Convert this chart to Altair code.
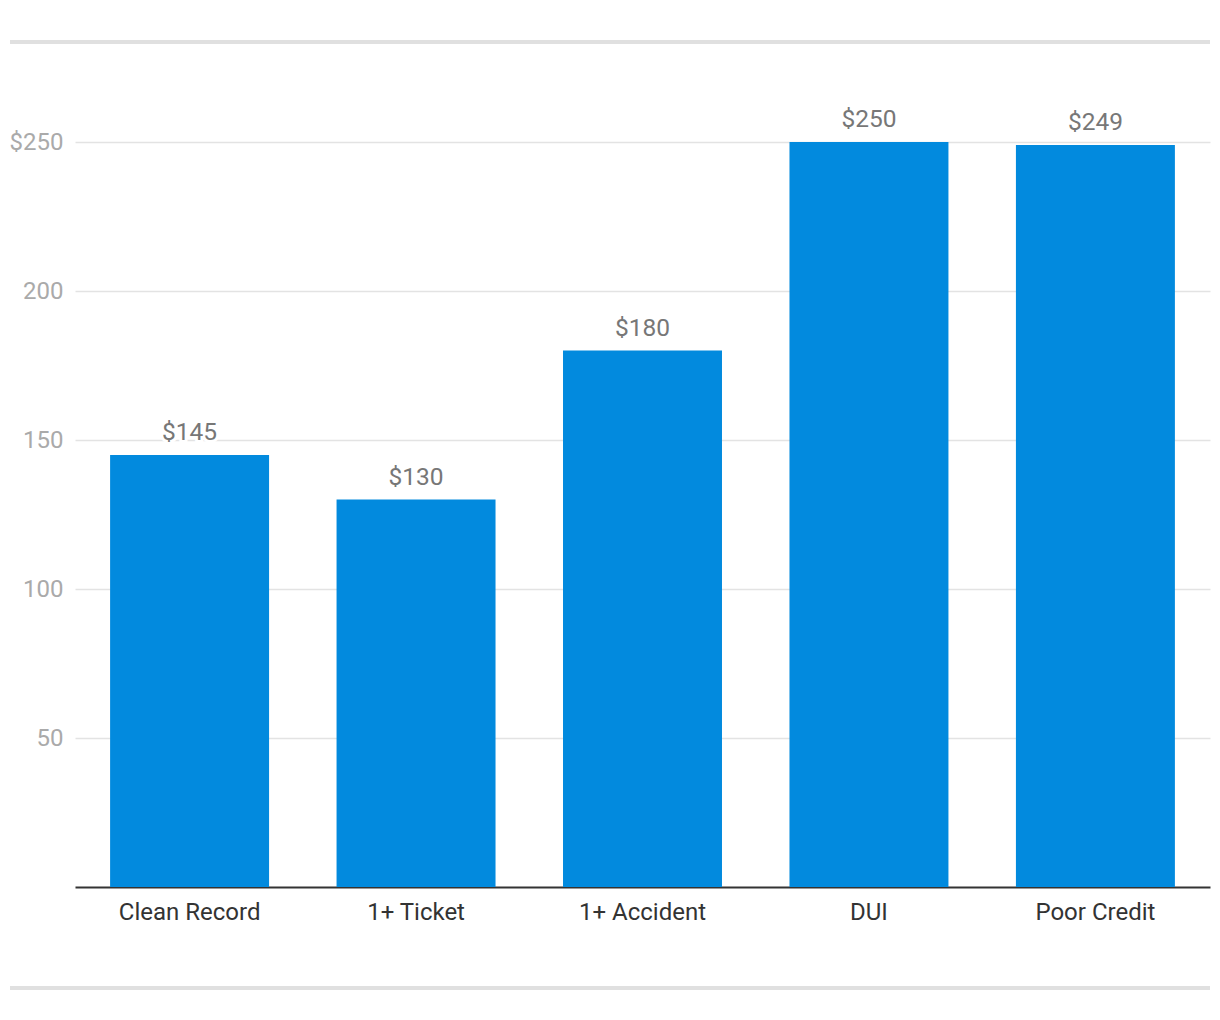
import altair as alt
import pandas as pd

categories = ["Clean Record", "1+ Ticket", "1+ Accident", "DUI", "Poor Credit"]
values = [145, 130, 180, 250, 249]
y_ticks = [50, 100, 150, 200, 250]

df = pd.DataFrame({"cat": categories, "val": values})
df["label"] = ["$" + str(v) for v in values]

FONT = "Roboto"

x_enc = alt.X("cat:N", sort=categories, title=None,
              scale=alt.Scale(paddingInner=0.298, paddingOuter=0.155),
              axis=alt.Axis(labelAngle=0, labelFont=FONT, labelFontSize=24,
                            labelColor="#333333", labelPadding=13, ticks=False,
                            domainColor="#333333", domainWidth=2, grid=False))
y_enc = alt.Y("val:Q", title=None,
              scale=alt.Scale(domain=[0, 250], nice=False),
              axis=alt.Axis(values=y_ticks, labelFont=FONT, labelFontSize=24,
                            labelColor="#aaaaaa", labelPadding=12, ticks=False,
                            domain=False, gridColor="#e3e3e3", gridWidth=1.5,
                            labelExpr="datum.value == 250 ? '$250' : datum.label"))

bars = alt.Chart(df).mark_bar(color="#028ade").encode(x=x_enc, y=y_enc)

text = alt.Chart(df).mark_text(
    font=FONT, fontSize=24.5, color="#777777", baseline="alphabetic", dy=-15,
    stroke="white", strokeWidth=6, strokeOpacity=1
).encode(x=alt.X("cat:N", sort=categories), y="val:Q", text="label:N")

text2 = alt.Chart(df).mark_text(
    font=FONT, fontSize=24.5, color="#777777", baseline="alphabetic", dy=-15
).encode(x=alt.X("cat:N", sort=categories), y="val:Q", text="label:N")

sep_top = alt.Chart(df).mark_rule(color="#e0e0e0", strokeWidth=4).encode(
    x=alt.value(-65), x2=alt.value(1135), y=alt.value(-100))
sep_bot = alt.Chart(df).mark_rule(color="#e0e0e0", strokeWidth=4).encode(
    x=alt.value(-65), x2=alt.value(1135), y=alt.value(846))

chart = alt.layer(bars, text, text2, sep_top, sep_bot).properties(
    width=1135, height=745,
    autosize=alt.AutoSizeParams(type="none"),
    padding={"left": 75, "top": 142, "right": 10, "bottom": 133},
    background="white",
).configure_view(stroke=None)

chart.save("out.html", embed_options={"renderer": "svg", "actions": False})
